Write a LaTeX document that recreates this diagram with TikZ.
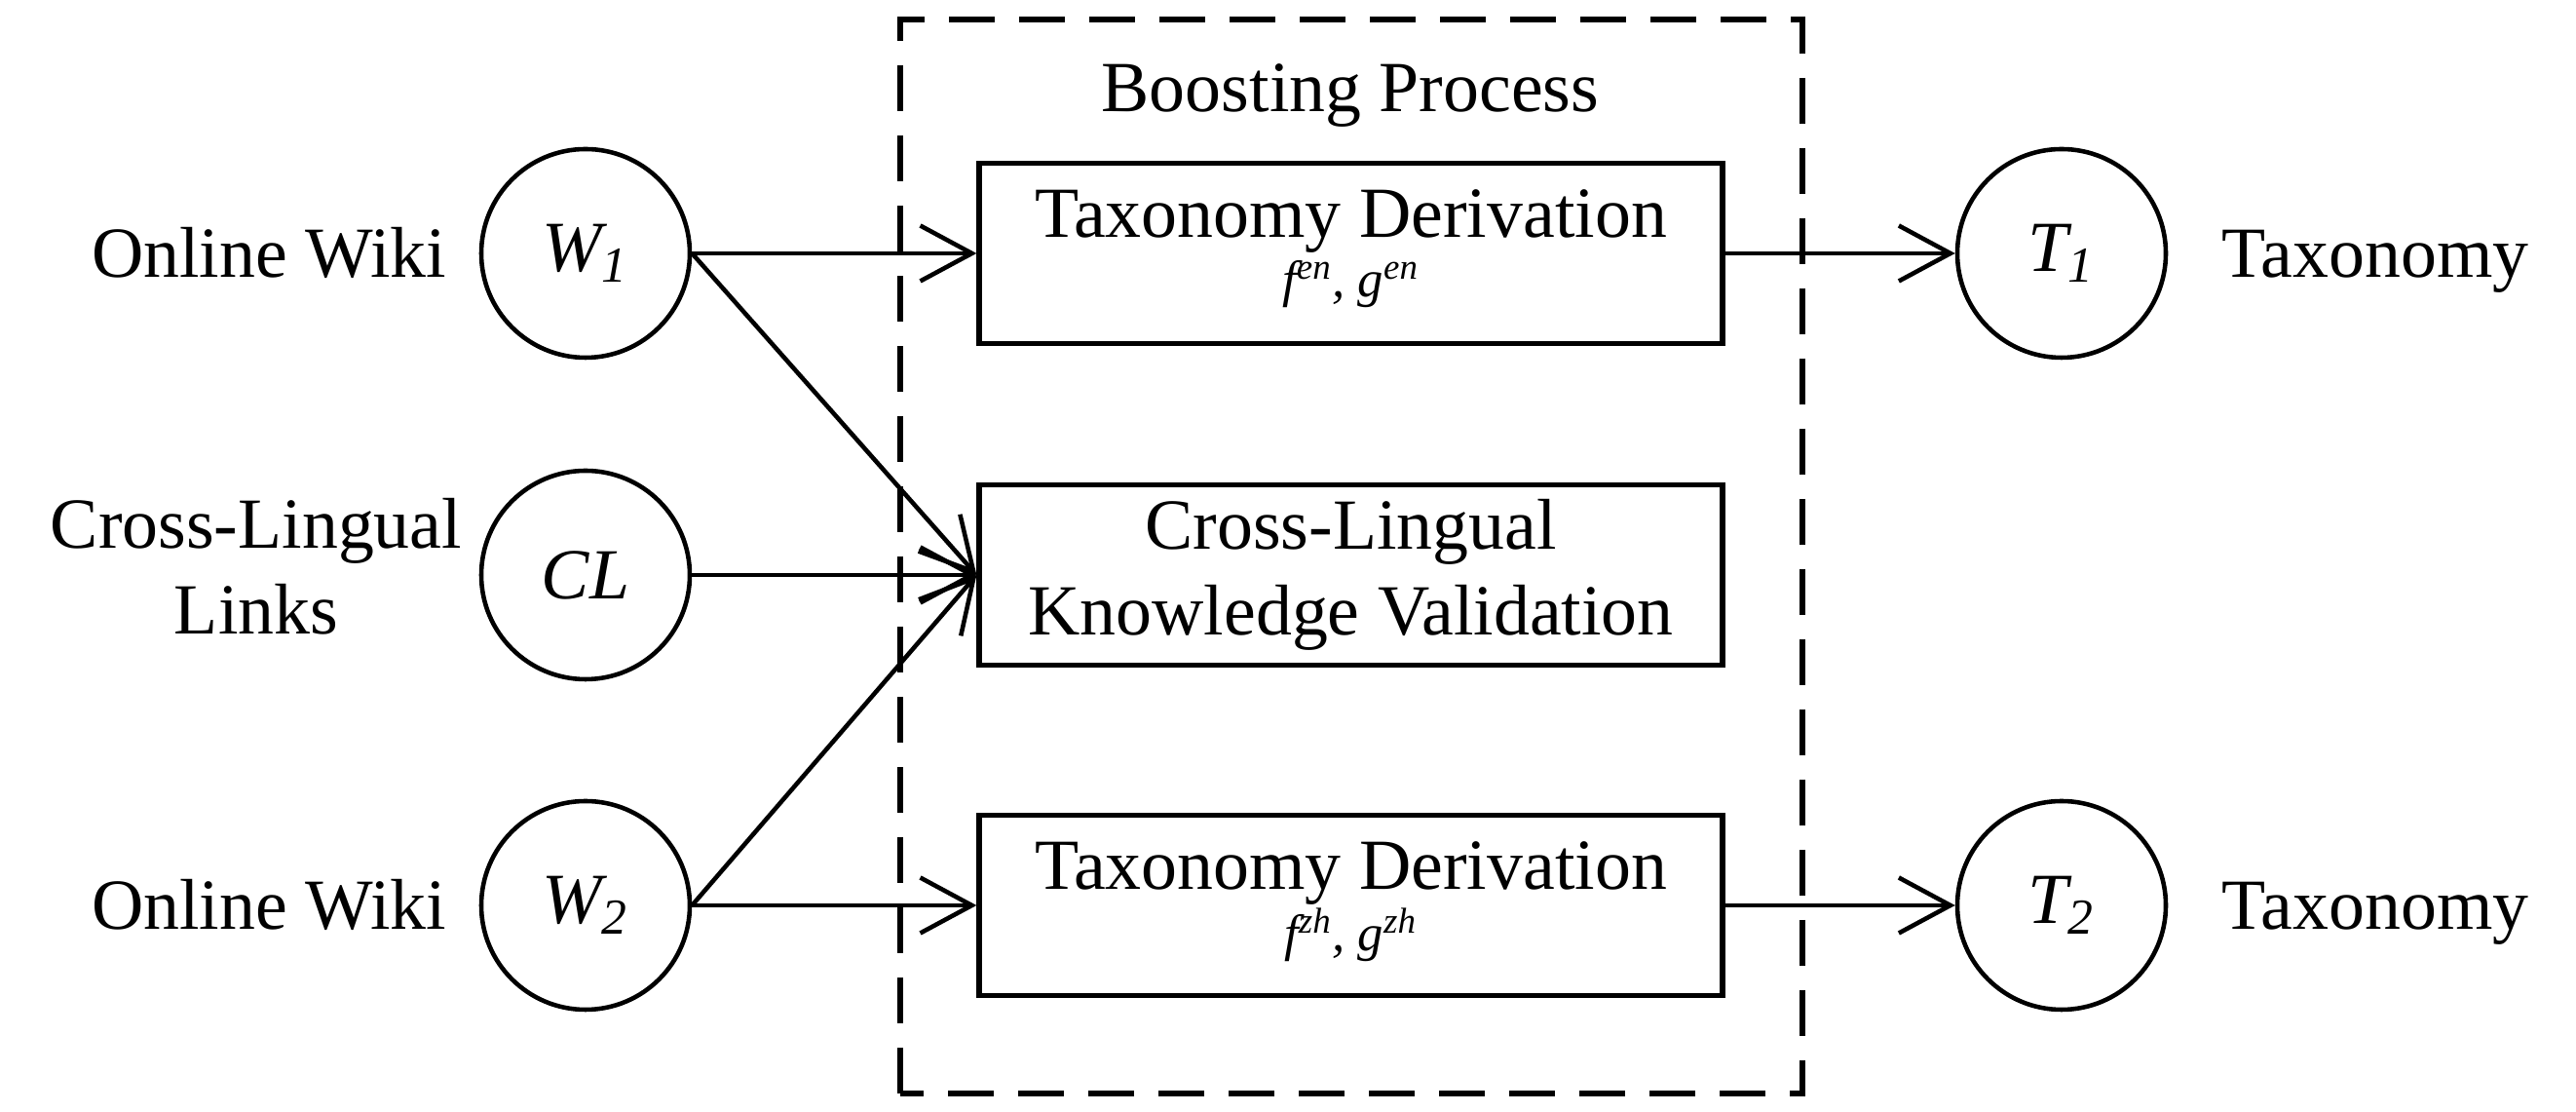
\documentclass[tikz,border=0pt]{standalone}
\usepackage{fontspec}
\setmainfont{Liberation Serif}
\usetikzlibrary{arrows.meta}
\begin{document}
\begin{tikzpicture}[
  every node/.style={font=\fontsize{21}{25}\selectfont},
  circ/.style={draw, circle, line width=1.3pt, minimum size=2.14cm, inner sep=0pt},
  procbox/.style={draw, rectangle, line width=1.5pt, minimum width=7.63cm, minimum height=1.85cm, inner sep=0pt, align=center},
  conn/.style={line width=1.3pt, -{Straight Barb[length=0.53cm, width=0.57cm, line width=1.3pt]}},
  subfont/.style={font=\fontsize{15}{18}\selectfont\itshape},
  dashbox/.style={line width=1.5pt, dash pattern=on 0.47cm off 0.25cm}
]
\useasboundingbox (0,0) rectangle (26.44,11.41);
\fill[white] (0,0) rectangle (26.44,11.41);

% dashed boosting frame
\draw[dashbox] (9.24,0.19) rectangle (18.50,11.21);
\node[anchor=base] (bp) at (13.86,10.26) {Boosting Process};

% circles
\node[circ] (w1) at (6.01,8.81) {\itshape W\textsubscript{1}};
\node[circ] (cl) at (6.01,5.51) {\itshape CL};
\node[circ] (w2) at (6.01,2.12) {\itshape W\textsubscript{2}};
\node[circ] (t1) at (21.16,8.81) {\itshape T\textsubscript{1}};
\node[circ] (t2) at (21.16,2.12) {\itshape T\textsubscript{2}};

% side labels
\node[anchor=base] (lw1) at (2.76,8.56) {Online Wiki};
\node[align=center] (lcl) at (2.63,5.60) {Cross-Lingual\\Links};
\node[anchor=base] (lw2) at (2.76,1.87) {Online Wiki};
\node[anchor=base] (lt1) at (24.38,8.56) {Taxonomy};
\node[anchor=base] (lt2) at (24.38,1.87) {Taxonomy};

% process boxes
\node[procbox] (d1) at (13.865,8.81) {};
\node[anchor=base] (d1t) at ([yshift=-0.79cm]d1.north) {Taxonomy Derivation};
\node[anchor=base, subfont] (d1s) at ([yshift=-1.40cm]d1.north) {f\textsuperscript{en}, g\textsuperscript{en}};

\node[procbox] (kv) at (13.865,5.51) {Cross-Lingual\\Knowledge Validation};

\node[procbox] (d2) at (13.865,2.12) {};
\node[anchor=base] (d2t) at ([yshift=-0.79cm]d2.north) {Taxonomy Derivation};
\node[anchor=base, subfont] (d2s) at ([yshift=-1.42cm]d2.north) {f\textsuperscript{zh}, g\textsuperscript{zh}};

% connectors
\draw[conn] (w1.east) -- (d1.west);
\draw[conn] (w1.east) -- (kv.west);
\draw[conn] (cl.east) -- (kv.west);
\draw[conn] (w2.east) -- (kv.west);
\draw[conn] (w2.east) -- (d2.west);
\draw[conn] (d1.east) -- (t1.west);
\draw[conn] (d2.east) -- (t2.west);
\end{tikzpicture}
\end{document}
